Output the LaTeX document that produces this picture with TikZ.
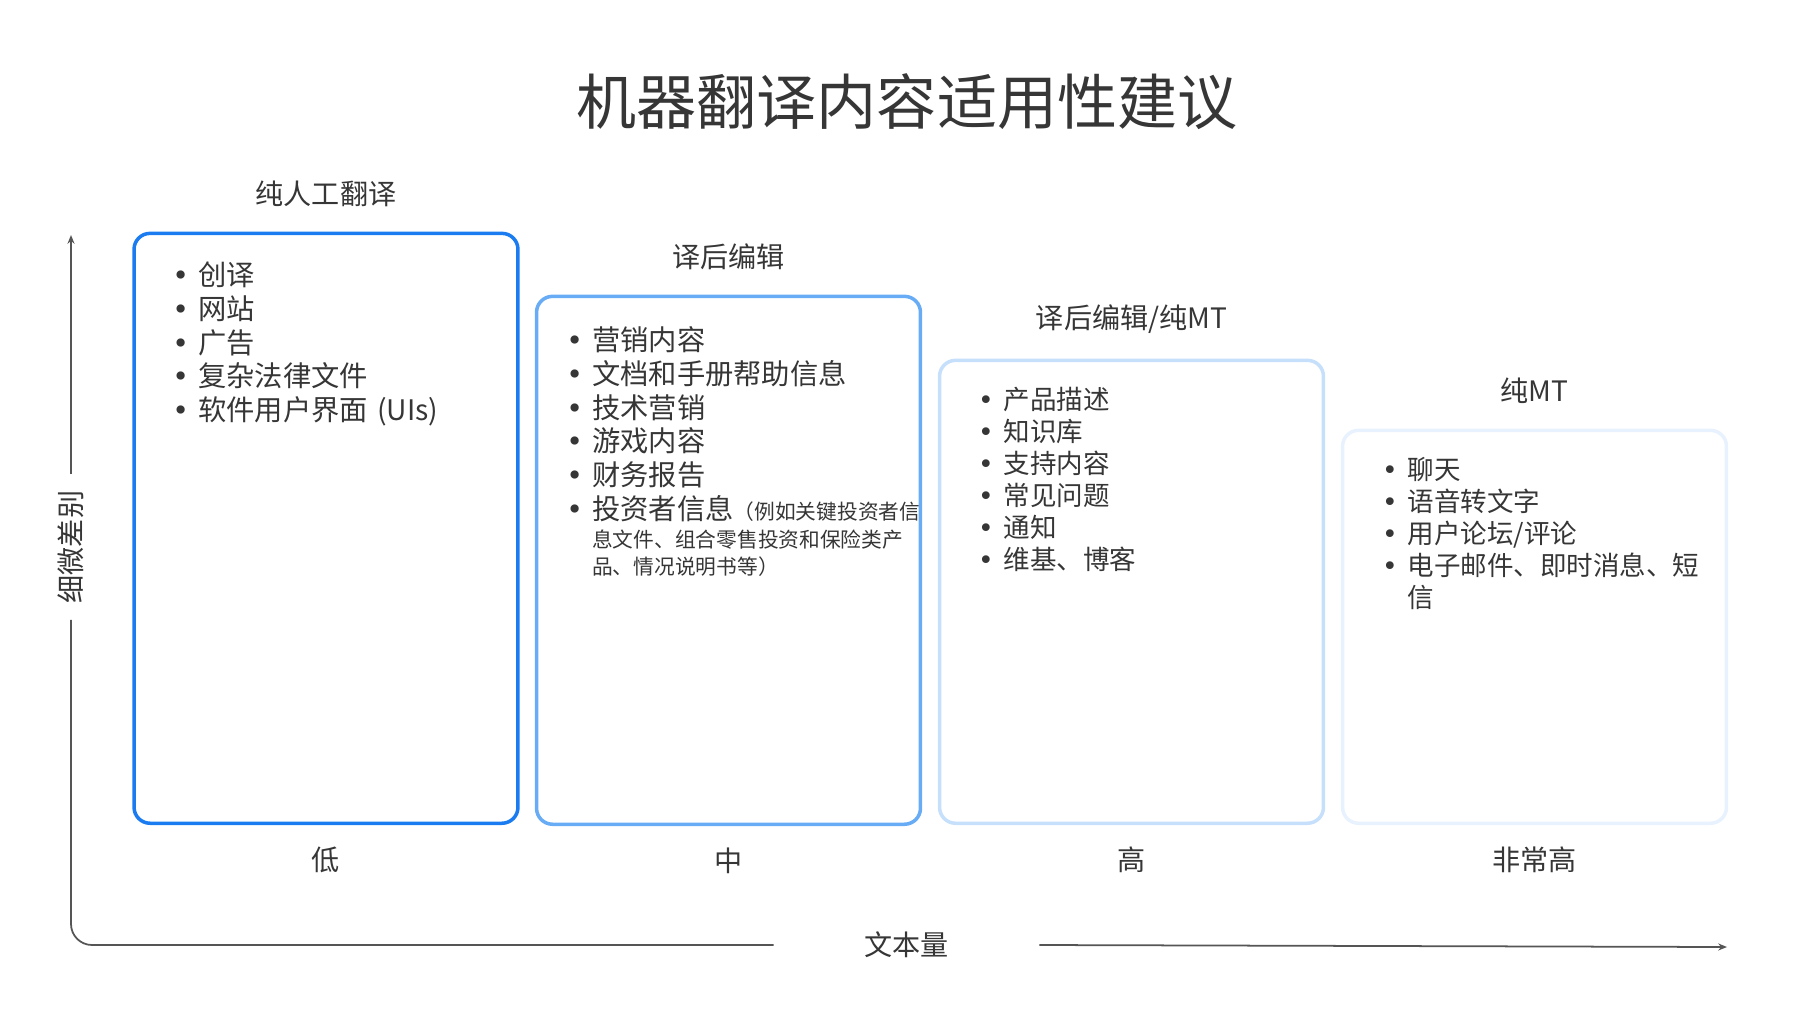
\documentclass[tikz,border=0pt]{standalone}
\usepackage{fontspec}
\setmainfont{Noto Sans CJK SC}
\newfontfamily\bulfont{DejaVu Sans}
\usetikzlibrary{arrows.meta,positioning}
\definecolor{Ink}{HTML}{363636}
\definecolor{AxisGray}{HTML}{555555}
\definecolor{BlueA}{HTML}{1A7CF0}
\definecolor{BlueB}{HTML}{69ACF6}
\definecolor{BlueC}{HTML}{C6E0FC}
\definecolor{BlueD}{HTML}{E8F2FE}
\newlength\bulw
\newcommand\bitem[1]{\par\noindent\makebox[\bulw][c]{\bulfont •}#1\par}
\newcommand\smallnote{\fontsize{11.8}{15.5}\selectfont}
\newcommand\nl{\par\noindent\hspace*{\bulw}}
\newcommand\listsetup{\setlength\bulw{20pt}\lineskiplimit=-30pt\relax}

\begin{document}
\begin{tikzpicture}[x=0.02cm,y=-0.02cm,
    every node/.style={text=Ink,inner sep=0pt},
    col/.style={draw=#1,line width=2pt,rounded corners=0.32cm,
      minimum width=7.68cm,anchor=south},
    head/.style={font=\fontsize{16}{19}\selectfont},
    lvl/.style={font=\fontsize{16}{19}\selectfont},
    items/.style={anchor=north west,text width=9cm,align=left,
      font=\fontsize{16.1}{19.3}\selectfont},
    smallitems/.style={items,font=\fontsize{15.1}{18.2}\selectfont},
    axis/.style={draw=AxisGray,line width=1pt}]
  \useasboundingbox (0,0) rectangle (1817,1014);

  \node[font=\fontsize{34.2}{40}\selectfont] (title) at (907,102) {机器翻译内容适用性建议};

  % columns
  \node[col=BlueA,minimum height=11.8cm]  (b1) at (326,825) {};
  \node[col=BlueB,minimum height=10.56cm] (b2) at (728.5,826) {};
  \node[col=BlueC,minimum height=9.26cm]  (b3) at (1131.5,825) {};
  \node[col=BlueD,minimum height=7.86cm]  (b4) at (1534.5,825) {};

  \node[head,above=0.49cm of b1] (h1) {纯人工翻译};
  \node[head,above=0.49cm of b2] (h2) {译后编辑};
  \node[head,above=0.49cm of b3] (h3) {译后编辑/纯MT};
  \node[head,above=0.49cm of b4] (h4) {纯MT};

  \node[lvl,below=0.43cm of b1] (l1) {低};
  \node[lvl,below=0.43cm of b2] (l2) {中};
  \node[lvl,below=0.43cm of b3] (l3) {高};
  \node[lvl,below=0.43cm of b4] (l4) {非常高};

  \node[items] (t1) at (162.7,251) {\listsetup
    \bitem{创译}\bitem{网站}\bitem{广告}\bitem{复杂法律文件}\bitem{软件用户界面 (UIs)}};
  \node[items] (t2) at (556.7,316) {\listsetup
    \bitem{营销内容}\bitem{文档和手册帮助信息}\bitem{技术营销}\bitem{游戏内容}\bitem{财务报告}%
    \vspace{3.8pt}\bitem{投资者信息\smallnote（例如关键投资者信\nl 息文件、组合零售投资和保险类产\nl 品、情况说明书等）}};
  \node[smallitems] (t3) at (968,377) {\listsetup
    \bitem{产品描述}\bitem{知识库}\bitem{支持内容}\bitem{常见问题}\bitem{通知}\bitem{维基、博客}};
  \node[smallitems] (t4) at (1372,447) {\listsetup
    \bitem{聊天}\bitem{语音转文字}\bitem{用户论坛/评论}\bitem{电子邮件、即时消息、短\nl 信}};

  % axes
  \coordinate (ytop) at (71,235);
  \coordinate (xend) at (1727,947);
  \node[lvl,rotate=90,minimum width=2.9cm] (ylab) at (71,547) {细微差别};
  \node[lvl,minimum width=5.3cm] (xlab) at (906.5,945) {文本量};
  \draw[axis,-{Stealth[length=5pt,width=4pt]}] (ylab.east) -- (ytop);
  \draw[axis,rounded corners=0.42cm] (ylab.west) |- (xlab.west);
  \draw[axis,-{Stealth[length=5pt,width=4pt]}] (xlab.east) -- (xend);
\end{tikzpicture}
\end{document}
